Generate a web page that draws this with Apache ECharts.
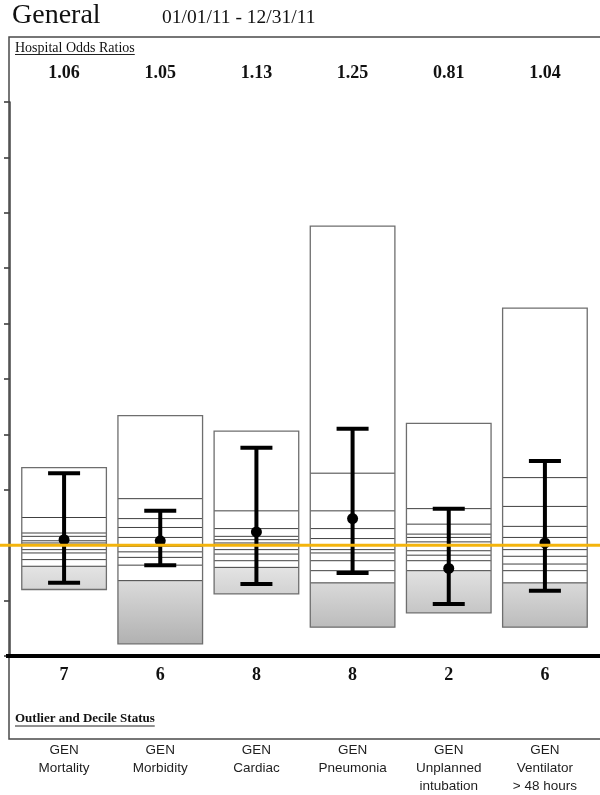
<!DOCTYPE html>
<html>
<head>
<meta charset="utf-8">
<title>General - Hospital Odds Ratios</title>
<script src="https://cdn.jsdelivr.net/npm/echarts@6/dist/echarts.min.js"></script>
<style>
  html, body { margin: 0; padding: 0; background: #fff; }
  #chart { width: 600px; height: 795px; }
</style>
</head>
<body>
<div id="chart"></div>
<script>
// categories along the bottom
const categories = ['GEN\nMortality', 'GEN\nMorbidity', 'GEN\nCardiac', 'GEN\nPneumonia', 'GEN\nUnplanned\nintubation', 'GEN\nVentilator\n> 48 hours'];
// printed rows
const oddsRatioText = ['1.06', '1.05', '1.13', '1.25', '0.81', '1.04'];
const decileStatus = ['7', '6', '8', '8', '2', '6'];

// y is log odds ratio (0 = OR of 1)
const boxTop = [0.70, 1.17, 1.03, 2.88, 1.10, 2.14];
const boxBottom = [-0.40, -0.89, -0.44, -0.74, -0.61, -0.74];
const decileLines = [
  [0.25, 0.11, 0.08, 0.04, 0.02, -0.04, -0.07, -0.13, -0.19],
  [0.42, 0.24, 0.16, 0.07, -0.01, -0.06, -0.11, -0.18, -0.32],
  [0.31, 0.15, 0.08, 0.05, 0.02, -0.04, -0.08, -0.14, -0.20],
  [0.65, 0.31, 0.15, 0.06, -0.04, -0.07, -0.14, -0.23, -0.34],
  [0.33, 0.19, 0.10, 0.07, 0.03, -0.05, -0.09, -0.14, -0.23],
  [0.61, 0.35, 0.17, 0.07, -0.04, -0.10, -0.17, -0.23, -0.34]
];
const ciHigh = [0.65, 0.31, 0.88, 1.05, 0.33, 0.76];
const ciLow = [-0.34, -0.18, -0.35, -0.25, -0.53, -0.41];
const pointEst = [0.05, 0.04, 0.12, 0.24, -0.21, 0.02];
const refValue = 0;

const SERIF = '"Liberation Serif", "Times New Roman", serif';
const SANS = '"Liberation Sans", Arial, sans-serif';

// one row per category: [index, bottom, top, ciLow, ciHigh, point, deciles...]
const boxData = categories.map((c, i) =>
  [i, boxBottom[i], boxTop[i], ciLow[i], ciHigh[i], pointEst[i]].concat(decileLines[i]));

function renderBox(params, api) {
  const i = api.value(0);
  const x = api.coord([i, 0])[0];
  const w = api.size([1, 0])[0] * 0.88;
  const left = x - w / 2;
  const yBottom = api.coord([i, api.value(1)])[1];
  const yTop = api.coord([i, api.value(2)])[1];
  const yLow = api.coord([i, api.value(3)])[1];
  const yHigh = api.coord([i, api.value(4)])[1];
  const yPt = api.coord([i, api.value(5)])[1];
  const nDec = decileLines[params.dataIndex].length;
  const yLastDec = api.coord([i, api.value(5 + nDec)])[1];

  // shading runs the same over the whole plot
  const g0 = api.coord([i, 0])[1];
  const g1 = api.coord([i, -1])[1];
  const grey = new echarts.graphic.LinearGradient(0, g0, 0, g1, [
    { offset: 0, color: '#f2f2f2' },
    { offset: 1, color: '#a9a9a9' }
  ], true);

  const children = [];
  children.push({
    type: 'rect',
    shape: { x: left, y: yTop, width: w, height: yBottom - yTop },
    style: { fill: '#fff' }
  });
  children.push({
    type: 'rect',
    shape: { x: left, y: yLastDec, width: w, height: yBottom - yLastDec },
    style: { fill: grey }
  });
  for (let k = 0; k < nDec; k++) {
    const y = api.coord([i, api.value(6 + k)])[1];
    children.push({
      type: 'line',
      shape: { x1: left, y1: y, x2: left + w, y2: y },
      style: { stroke: '#404040', lineWidth: 1 }
    });
  }
  children.push({
    type: 'rect',
    shape: { x: left, y: yTop, width: w, height: yBottom - yTop },
    style: { fill: 'none', stroke: '#6e6e6e', lineWidth: 1.3 }
  });
  // confidence interval
  children.push({
    type: 'line',
    shape: { x1: x, y1: yHigh, x2: x, y2: yLow },
    style: { stroke: '#000', lineWidth: 4 }
  });
  [yHigh, yLow].forEach(y => {
    children.push({
      type: 'line',
      shape: { x1: x - 16, y1: y, x2: x + 16, y2: y },
      style: { stroke: '#000', lineWidth: 4 }
    });
  });
  children.push({
    type: 'circle',
    shape: { cx: x, cy: yPt, r: 5.5 },
    style: { fill: '#000' }
  });
  return { type: 'group', children: children };
}

const chart = echarts.init(document.getElementById('chart'));

chart.setOption({
  animation: false,
  grid: { left: 16, right: 7, top: 102, bottom: 138 },
  xAxis: [
    {
      type: 'category',
      data: categories,
      position: 'bottom',
      axisLine: { show: false },
      axisTick: { show: false },
      axisLabel: { margin: 85, fontFamily: SANS, fontSize: 13.5, lineHeight: 18, color: '#1e1e1e', interval: 0 }
    },
    {
      type: 'category',
      data: oddsRatioText,
      position: 'top',
      axisLine: { show: false },
      axisTick: { show: false },
      axisLabel: { margin: 20, fontFamily: SERIF, fontSize: 18, fontWeight: 'bold', color: '#111', interval: 0 }
    },
    {
      type: 'category',
      data: decileStatus,
      position: 'bottom',
      axisLine: { show: false },
      axisTick: { show: false },
      axisLabel: { margin: 10, fontFamily: SERIF, fontSize: 18, fontWeight: 'bold', color: '#111', interval: 0 }
    }
  ],
  yAxis: {
    type: 'value',
    min: -1,
    max: 4,
    interval: 0.5,
    offset: 6,
    axisLine: { show: true, lineStyle: { color: '#444', width: 1.5 } },
    axisTick: { show: true, inside: false, length: 6, lineStyle: { color: '#333', width: 1.5 } },
    axisLabel: { show: false },
    splitLine: { show: false }
  },
  series: [{
    type: 'custom',
    xAxisIndex: 0,
    yAxisIndex: 0,
    renderItem: renderBox,
    encode: { x: 0, y: [1, 2] },
    data: boxData,
    silent: true,
    clip: false
  }]
});

// text widths for the underlines
const ctx = document.createElement('canvas').getContext('2d');
function textWidth(text, font) {
  ctx.font = font;
  return ctx.measureText(text).width;
}
const hdrFont = '14px ' + SERIF;
const outFont = 'bold 13px ' + SERIF;
const hdrW = textWidth('Hospital Odds Ratios', hdrFont);
const outW = textWidth('Outlier and Decile Status', outFont);

const yRef = chart.convertToPixel({ yAxisIndex: 0 }, refValue);
const yBase = chart.convertToPixel({ yAxisIndex: 0 }, -1);

chart.setOption({
  graphic: [
    {
      type: 'text', z: 100,
      style: { x: 12, y: 15.5, text: 'General', font: '28px ' + SERIF, fill: '#111', verticalAlign: 'middle' }
    },
    {
      type: 'text', z: 100,
      style: { x: 162, y: 18, text: '01/01/11 - 12/31/11', font: '19.5px ' + SERIF, fill: '#111', verticalAlign: 'middle' }
    },
    {
      type: 'rect', z: 90,
      shape: { x: 9, y: 37, width: 600, height: 702 },
      style: { fill: 'none', stroke: '#4a4a4a', lineWidth: 1.5 }
    },
    {
      type: 'text', z: 100,
      style: { x: 15, y: 48.5, text: 'Hospital Odds Ratios', font: hdrFont, fill: '#111', verticalAlign: 'middle' }
    },
    {
      type: 'line', z: 100,
      shape: { x1: 15, y1: 54.5, x2: 15 + hdrW, y2: 54.5 },
      style: { stroke: '#222', lineWidth: 1 }
    },
    {
      type: 'text', z: 100,
      style: { x: 15, y: 719, text: 'Outlier and Decile Status', font: outFont, fill: '#111', verticalAlign: 'middle' }
    },
    {
      type: 'line', z: 100,
      shape: { x1: 15, y1: 726, x2: 15 + outW, y2: 726 },
      style: { stroke: '#222', lineWidth: 1 }
    },
    {
      type: 'line', z: 100,
      shape: { x1: 6, y1: yBase, x2: 600, y2: yBase },
      style: { stroke: '#000', lineWidth: 4 }
    },
    {
      type: 'line', z: 110,
      shape: { x1: 0, y1: yRef, x2: 600, y2: yRef },
      style: { stroke: '#f4b40c', lineWidth: 3 }
    }
  ]
});

window.onresize = chart.resize;
</script>
</body>
</html>
